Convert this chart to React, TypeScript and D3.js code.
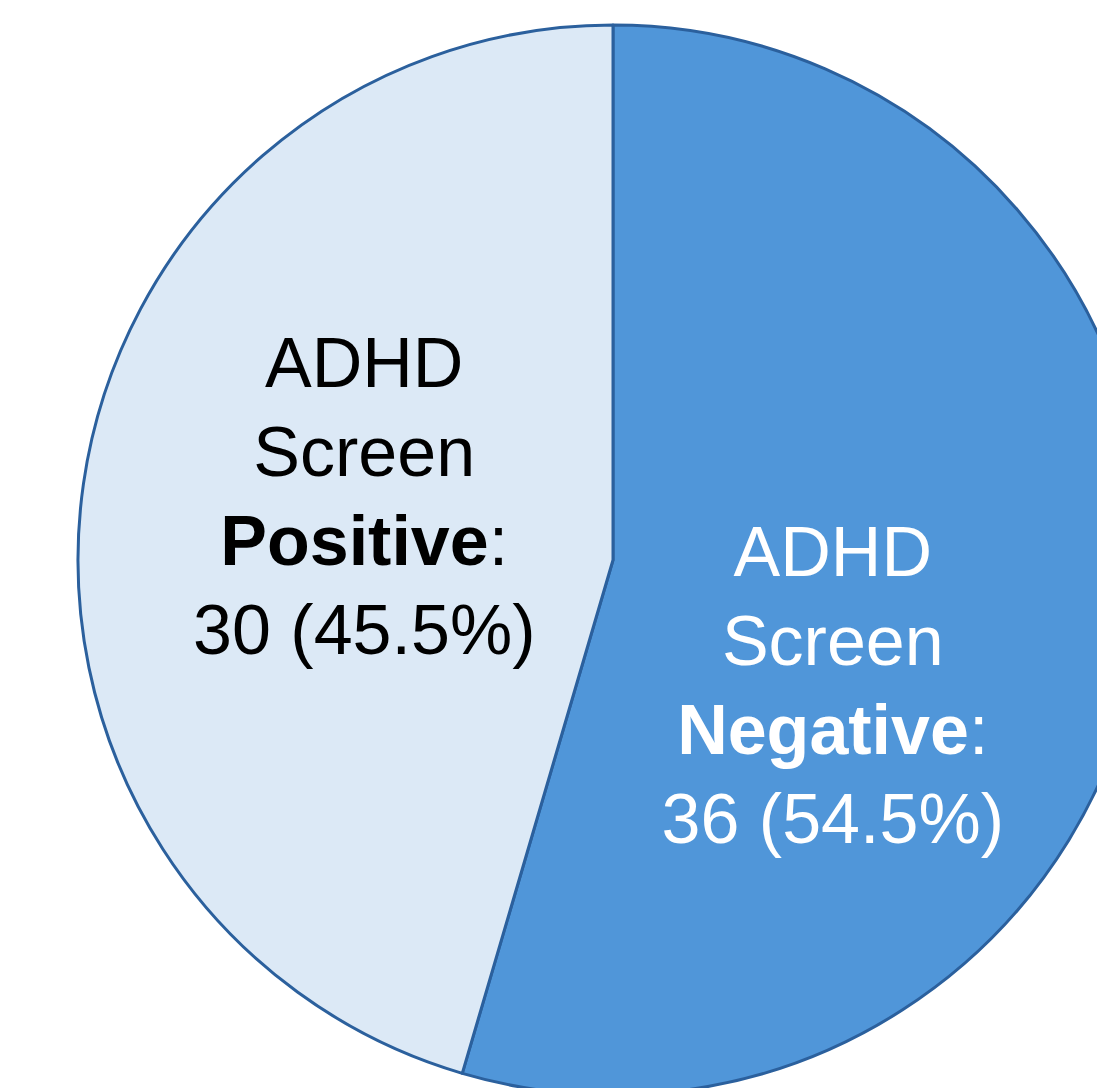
import * as d3 from 'd3';

const WIDTH = 1097;
const HEIGHT = 1088;

// slices, clockwise from 12 o'clock
const categories = ['Negative', 'Positive'];
const counts = [36, 30];
const percents = ['54.5%', '45.5%'];

const fills = ['#5096D9', '#DCE9F6'];
const textColors = ['#FFFFFF', '#000000'];
// nudges for the label blocks (Excel-ish placement)
const labelNudge = [
  { dx: -45, dy: 86 },
  { dx: 16, dy: -26 },
];

const CX = 613;
const CY = 560;
const R = 535;
const LINE = 89;

export default function App() {
  const data = categories.map((c, i) => ({ key: c, value: counts[i], pct: percents[i] }));

  const pie = d3
    .pie<{ key: string; value: number; pct: string }>()
    .value((d) => d.value)
    .sort(null);
  const arcs = pie(data);

  const arcGen = d3.arc<d3.PieArcDatum<any>>().innerRadius(0).outerRadius(R);
  const labelArc = d3.arc<d3.PieArcDatum<any>>().innerRadius(R * 0.5).outerRadius(R * 0.5);

  return (
    <svg
      width={WIDTH}
      height={HEIGHT}
      style={{ position: 'absolute', left: 0, top: 0, background: '#fff' }}
      fontFamily="'Liberation Sans', Arial, sans-serif"
    >
      <g transform={`translate(${CX},${CY})`}>
        {arcs.map((a, i) => (
          <path
            key={a.data.key}
            d={arcGen(a) || ''}
            fill={fills[i]}
            stroke="#2B609D"
            strokeWidth={3}
            strokeLinejoin="round"
          />
        ))}
        {arcs.map((a, i) => {
          const [x0, y0] = labelArc.centroid(a);
          const x = x0 + labelNudge[i].dx;
          const y = y0 + labelNudge[i].dy;
          const base = y - 1.5 * LINE + 25;
          return (
            <text
              key={'lbl' + a.data.key}
              x={x}
              textAnchor="middle"
              fontSize={70}
              fill={textColors[i]}
            >
              <tspan x={x} y={base}>ADHD</tspan>
              <tspan x={x} y={base + LINE}>Screen</tspan>
              <tspan x={x} y={base + LINE * 2}>
                <tspan fontWeight="bold">{a.data.key}</tspan>:
              </tspan>
              <tspan x={x} y={base + LINE * 3}>
                {a.data.value} ({a.data.pct})
              </tspan>
            </text>
          );
        })}
      </g>
    </svg>
  );
}
